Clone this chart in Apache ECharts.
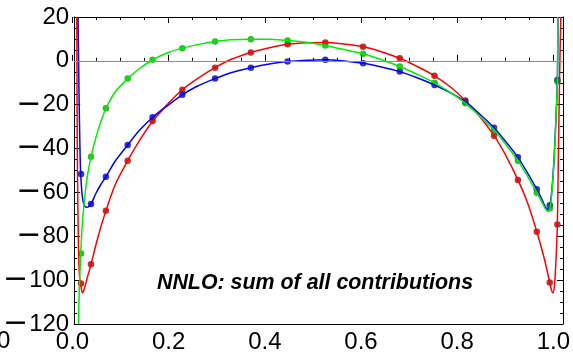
<!DOCTYPE html>
<html>
<head>
<meta charset="utf-8">
<script src="https://cdn.jsdelivr.net/npm/echarts@6/dist/echarts.min.js"></script>
<style>html,body{margin:0;padding:0;background:#fff;}#c{width:573px;height:354px;}</style>
</head>
<body>
<div id="c"></div>
<script>
// ---- data ----
const xTickLabels = ['0.0', '0.2', '0.4', '0.6', '0.8', '1.0'];
const yTickValues = [-120, -100, -80, -60, -40, -20, 0, 20];
const annotation = 'NNLO: sum of all contributions';

// sampled points (dots)
const dotX = [0.0093, 0.0299, 0.0608, 0.106, 0.1576, 0.2194, 0.2873, 0.3615, 0.4377, 0.516, 0.5942, 0.6704, 0.7425, 0.8063, 0.866, 0.9155, 0.9547, 0.9815, 0.9973];
const redDots   = [-101.5, -92.8, -68.3, -45.5, -27.4, -13.2, -3.1, 3.8, 7.6, 8.4, 6.4, 1.2, -6.8, -18.1, -34.1, -54.3, -77.9, -101.1, -74.6];
const blueDots  = [-51.6, -65.3, -52.8, -38.4, -25.7, -15.5, -8.1, -3.1, -0.3, 0.5, -1.1, -4.9, -11.0, -18.6, -30.5, -44.0, -58.6, -65.8, -8.7];
const greenDots = [-87.8, -43.7, -21.6, -8.1, 0.5, 5.8, 8.8, 9.9, 9.3, 7.0, 3.2, -2.6, -10.0, -19.3, -31.5, -45.5, -60.1, -67.3, -9.4];

// fitted curves
const redCurveX = [0.0004, 0.001, 0.002, 0.004, 0.006, 0.0093, 0.012, 0.016, 0.022, 0.03, 0.04, 0.05, 0.061, 0.08, 0.106, 0.13, 0.158, 0.19, 0.219, 0.25, 0.287, 0.32, 0.3615, 0.40, 0.4377, 0.48, 0.516, 0.55, 0.5942, 0.63, 0.6704, 0.705, 0.7425, 0.775, 0.8063, 0.835, 0.866, 0.89, 0.9155, 0.935, 0.9547, 0.97, 0.9815, 0.985, 0.988, 0.991, 0.994, 0.9973, 0.999, 1.001, 1.003, 1.0045];
const redCurveY = [20, -20, -55, -85, -98, -103, -105.8, -104, -99, -92.8, -84, -76, -68.3, -56.5, -45.5, -36.5, -27.4, -19.5, -13.2, -8.2, -3.1, 0.6, 3.8, 6.0, 7.6, 8.3, 8.4, 7.8, 6.4, 4.3, 1.2, -2.4, -6.8, -11.8, -18.1, -25, -34.1, -43, -54.3, -64.5, -77.9, -90, -101.1, -104.5, -105.8, -103, -93, -74.6, -50, -20, 5, 20];

const blueCurveX = [0.003, 0.005, 0.007, 0.0086, 0.012, 0.016, 0.021, 0.025, 0.03, 0.04, 0.05, 0.061, 0.08, 0.106, 0.13, 0.158, 0.19, 0.219, 0.25, 0.287, 0.32, 0.3615, 0.40, 0.4377, 0.48, 0.516, 0.55, 0.5942, 0.63, 0.6704, 0.705, 0.7425, 0.775, 0.8063, 0.835, 0.866, 0.89, 0.9155, 0.935, 0.9547, 0.965, 0.972, 0.977, 0.9815, 0.985, 0.989, 0.993, 0.9973, 0.9985];
const blueCurveY = [20, -15, -40, -52, -62, -66, -66.8, -66.5, -65.3, -60.5, -56.5, -52.8, -45.8, -38.4, -31.8, -25.7, -20.2, -15.5, -11.6, -8.1, -5.4, -3.1, -1.4, -0.3, 0.3, 0.5, 0.1, -1.1, -2.7, -4.9, -7.6, -11.0, -14.5, -18.6, -24, -30.5, -36.8, -44.0, -51, -58.6, -63, -66.5, -67.8, -66, -61, -50, -33, -8.7, 20];

const greenCurveX = [0.004, 0.0055, 0.0086, 0.012, 0.017, 0.022, 0.03, 0.04, 0.05, 0.061, 0.08, 0.106, 0.13, 0.158, 0.19, 0.219, 0.25, 0.287, 0.32, 0.3615, 0.40, 0.4377, 0.48, 0.516, 0.55, 0.5942, 0.63, 0.6704, 0.705, 0.7425, 0.775, 0.8063, 0.835, 0.866, 0.89, 0.9155, 0.935, 0.9547, 0.965, 0.972, 0.977, 0.9815, 0.985, 0.989, 0.993, 0.9973, 0.998];
const greenCurveY = [-120, -105, -88, -74, -62, -53, -43.7, -35, -28, -21.6, -14.2, -8.1, -3.6, 0.5, 3.8, 5.8, 7.4, 8.8, 9.6, 9.9, 9.8, 9.3, 8.4, 7.0, 5.4, 3.2, 0.7, -2.6, -6.0, -10.0, -14.4, -19.3, -25, -31.5, -38, -45.5, -52.5, -60.1, -64.3, -67.3, -68.6, -67.3, -62, -51, -34, -9.4, 20];

const pairs = (xs, ys) => xs.map((x, i) => [x, ys[i]]);

const FONT = 'Liberation Sans, Arial, Helvetica, sans-serif';
const chart = echarts.init(document.getElementById('c'), null, {renderer: 'canvas'});

const frameLine = {show: true, onZero: false, lineStyle: {color: '#000', width: 1}};
const yCommon = {
  type: 'value', min: -120, max: 20, interval: 20, gridIndex: 0,
  axisLine: frameLine,
  axisTick: {show: true, inside: true, length: 6, lineStyle: {color: '#000'}},
  minorTick: {show: true, splitNumber: 4, length: 3, lineStyle: {color: '#000'}},
  splitLine: {show: false}
};
const xTickCommon = {
  type: 'value', min: 0, max: 1, interval: 0.2, gridIndex: 1,
  axisLine: {show: false},
  axisTick: {show: true, inside: true, length: 6, lineStyle: {color: '#000'}},
  minorTick: {show: true, splitNumber: 4, length: 3, lineStyle: {color: '#000'}},
  splitLine: {show: false}
};

const option = {
  animation: false,
  backgroundColor: '#fff',
  grid: [
    {left: 70, right: 10, top: 17, bottom: 30},
    {left: 72.5, right: 15, top: 17, bottom: 30}
  ],
  xAxis: [
    {type: 'value', min: -0.005, max: 1.009, gridIndex: 0, position: 'bottom', axisLine: frameLine, axisTick: {show: false}, axisLabel: {show: false}, splitLine: {show: false}},
    {type: 'value', min: -0.005, max: 1.009, gridIndex: 0, position: 'top', axisLine: frameLine, axisTick: {show: false}, axisLabel: {show: false}, splitLine: {show: false}},
    Object.assign({}, xTickCommon, {position: 'bottom', axisLabel: {show: true, margin: 6, color: '#000', fontSize: 24, fontFamily: FONT, formatter: v => xTickLabels[Math.round(v / 0.2)]}}),
    Object.assign({}, xTickCommon, {position: 'top', axisLabel: {show: false}})
  ],
  yAxis: [
    Object.assign({}, yCommon, {position: 'left', axisLabel: {
      show: true, margin: 5, color: '#000', fontSize: 24, fontFamily: FONT,
      formatter: v => v < 0 ? '{m|\u2212}{d|' + Math.abs(v) + '}' : '{d|' + v + '}',
      rich: {m: {fontFamily: 'DejaVu Sans', fontSize: 30, color: '#000', padding: [0, 1, 0, 0]}, d: {fontFamily: FONT, fontSize: 24, color: '#000'}}
    }}),
    Object.assign({}, yCommon, {position: 'right', axisLabel: {show: false}}),
    {type: 'value', min: -120, max: 20, gridIndex: 1, show: false}
  ],
  series: [
    {type: 'line', name: 'zero', xAxisIndex: 0, yAxisIndex: 0, data: [], symbol: 'none',
     markLine: {silent: true, symbol: 'none', label: {show: false}, lineStyle: {color: '#8c8c8c', width: 1, type: 'solid'}, data: [{yAxis: 0}]}},
    {type: 'line', name: 'red', xAxisIndex: 0, yAxisIndex: 0, data: pairs(redCurveX, redCurveY), smooth: 0.3, symbol: 'none', lineStyle: {color: '#ff0000', width: 1.5}, clip: true},
    {type: 'line', name: 'blue', xAxisIndex: 0, yAxisIndex: 0, data: pairs(blueCurveX, blueCurveY), smooth: 0.3, symbol: 'none', lineStyle: {color: '#0000ff', width: 1.5}, clip: true},
    {type: 'line', name: 'green', xAxisIndex: 0, yAxisIndex: 0, data: pairs(greenCurveX, greenCurveY), smooth: 0.3, symbol: 'none', lineStyle: {color: '#00ee00', width: 1.5}, clip: true},
    {type: 'scatter', xAxisIndex: 0, yAxisIndex: 0, data: pairs(dotX, redDots), symbolSize: 6.5, itemStyle: {color: '#aa0000'}},
    {type: 'scatter', xAxisIndex: 0, yAxisIndex: 0, data: pairs(dotX, blueDots), symbolSize: 6.5, itemStyle: {color: '#0000aa'}},
    {type: 'scatter', xAxisIndex: 0, yAxisIndex: 0, data: pairs(dotX, greenDots), symbolSize: 6.5, itemStyle: {color: '#00aa00'}}
  ],
  graphic: [
    {type: 'text', x: 315, y: 283, style: {text: annotation, font: 'italic bold 21.4px ' + FONT, fill: '#000', align: 'center', verticalAlign: 'middle'}},
    {type: 'text', x: -3, y: 341, style: {text: '0', font: '24px ' + FONT, fill: '#000', align: 'left', verticalAlign: 'middle'}}
  ]
};
chart.setOption(option);
</script>
</body>
</html>
